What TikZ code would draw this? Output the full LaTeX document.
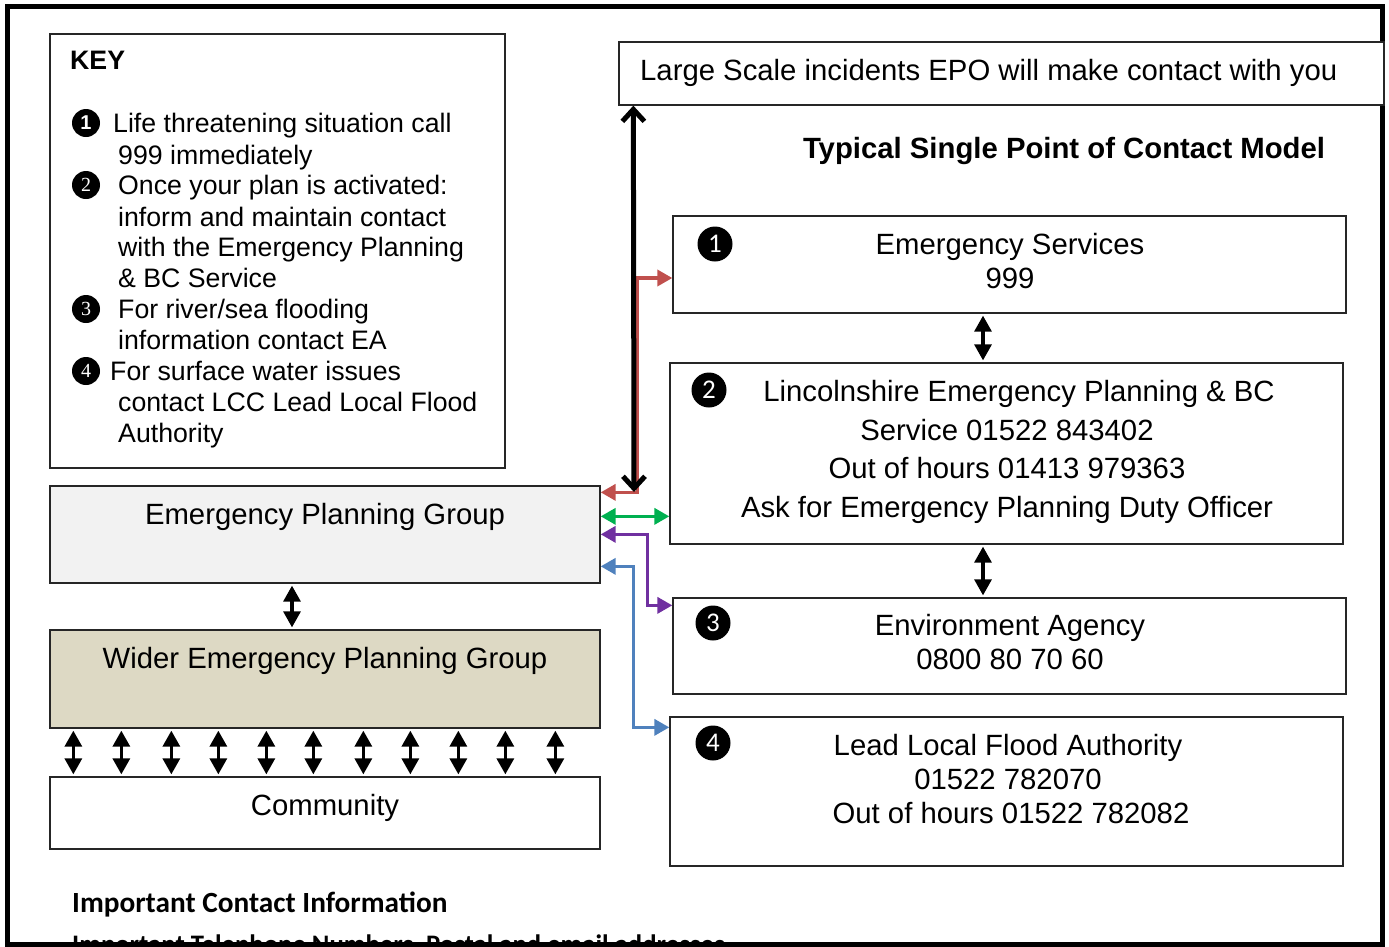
\documentclass[tikz,border=0pt]{standalone}
\usepackage{fontspec}
\setmainfont{Liberation Sans}
\newfontfamily\calibfont{Carlito}
\newfontfamily\numserif{Liberation Serif}
\usetikzlibrary{arrows.meta}
\definecolor{arrred}{HTML}{C0504D}
\definecolor{arrgreen}{HTML}{00B050}
\definecolor{arrpurple}{HTML}{7030A0}
\definecolor{arrblue}{HTML}{4F81BD}
\definecolor{epgfill}{HTML}{F2F2F2}
\definecolor{wepgfill}{HTML}{DDD9C4}
\begin{document}
\begin{tikzpicture}[x=1pt,y=-1pt,
  box/.style={draw=black!85, line width=1.3pt, inner sep=0pt, fill=white},
  bigtxt/.style={inner sep=0pt, anchor=base, font=\fontsize{29.3}{34}\selectfont},
  keytxt/.style={inner sep=0pt, anchor=base west, font=\fontsize{26.7}{31}\selectfont},
  numc/.style={circle, fill=black, text=white, inner sep=0pt, minimum size=35pt, font=\calibfont\fontsize{27}{27}\selectfont},
  keyc/.style={circle, fill=black, text=white, inner sep=0pt, minimum size=28pt},
  dbl/.style={line width=3.2pt, shorten <=2pt, shorten >=2pt,
     {Triangle[width=17pt,length=16pt]}-{Triangle[width=17pt,length=16pt]}},
  carr/.style={line width=3.5pt,
     {Triangle[width=16pt,length=15pt]}-{Triangle[width=16pt,length=15pt]}},
  bigarr/.style={line width=5pt, line cap=round, line join=round,
     {Straight Barb[width=22pt,length=12pt]}-{Straight Barb[width=22pt,length=12pt]}}
]
\useasboundingbox (0,0) rectangle (1389,946);

% outer frame
\draw[line width=5pt] (7.5,6.5) rectangle (1382.5,944);

% bottom texts (cut by the frame, as in the original)
\begin{scope}
\clip (0,0) rectangle (1389,941.5);
\node[inner sep=0pt, anchor=base west, font=\calibfont\bfseries\fontsize{29.3}{30}\selectfont] (ici) at (72,912.5) {Important Contact Information};
\node[inner sep=0pt, anchor=base west, font=\calibfont\bfseries\fontsize{26.7}{30}\selectfont] (itn) at (72,953) {Important Telephone Numbers, Postal and email addresses};
\end{scope}

% key box
\node[box, minimum width=455pt, minimum height=434pt] (key) at (277.5,251) {};
\node[inner sep=0pt, anchor=base west, font=\bfseries\fontsize{26.7}{31}\selectfont] (keyt) at (70,69.5) {KEY};
\node[keyc, font=\bfseries\fontsize{20}{20}\selectfont] (k1) at (86,123) {1};
\node[keyc, font=\numserif\fontsize{20}{20}\selectfont] (k2) at (86,185) {2};
\node[keyc, font=\numserif\fontsize{20}{20}\selectfont] (k3) at (86,309) {3};
\node[keyc, font=\numserif\fontsize{20}{20}\selectfont] (k4) at (86,371) {4};
\node[keytxt] (kl1) at (113,132.5) {Life threatening situation call};
\node[keytxt] (kl2) at (118,164.5) {999 immediately};
\node[keytxt] (kl3) at (118,194.5) {Once your plan is activated:};
\node[keytxt] (kl4) at (118,226.5) {inform and maintain contact};
\node[keytxt] (kl5) at (118,256.5) {with the Emergency Planning};
\node[keytxt] (kl6) at (118,287.5) {\& BC Service};
\node[keytxt] (kl7) at (118,318.5) {For river/sea flooding};
\node[keytxt] (kl8) at (118,349.5) {information contact EA};
\node[keytxt] (kl9) at (110,380.5) {For surface water issues};
\node[keytxt] (kl10) at (118,411.5) {contact LCC Lead Local Flood};
\node[keytxt] (kl11) at (118,442.5) {Authority};

% right column boxes
\node[box, minimum width=765pt, minimum height=63pt] (hdr) at (1001.5,73.5) {};
\node[bigtxt, anchor=base west] (hdrt) at (640,80) {Large Scale incidents EPO will make contact with you};
\node[inner sep=0pt, anchor=base, font=\bfseries\fontsize{29.3}{31}\selectfont] (title) at (1064,158) {Typical Single Point of Contact Model};

\node[box, minimum width=673pt, minimum height=97pt] (es) at (1009.5,264.5) {};
\node[numc] (c1) at (715,244) {1};
\node[bigtxt] (es1) at (1010,254) {Emergency Services};
\node[bigtxt] (es2) at (1010,288) {999};

\node[box, minimum width=673pt, minimum height=181pt] (lincs) at (1006.5,453.5) {};
\node[numc] (c2) at (709,390) {2};
\node[bigtxt] (li1) at (1019,401) {Lincolnshire Emergency Planning \& BC};
\node[bigtxt] (li2) at (1007,440) {Service 01522 843402};
\node[bigtxt] (li3) at (1007,478) {Out of hours 01413 979363};
\node[bigtxt] (li4) at (1007,517) {Ask for Emergency Planning Duty Officer};

\node[box, minimum width=673pt, minimum height=96pt] (ea) at (1009.5,646) {};
\node[numc] (c3) at (713,623) {3};
\node[bigtxt] (ea1) at (1010,635) {Environment Agency};
\node[bigtxt] (ea2) at (1010,669) {0800 80 70 60};

\node[box, minimum width=673pt, minimum height=149pt] (llfa) at (1006.5,791.5) {};
\node[numc] (c4) at (713,743) {4};
\node[bigtxt] (ll1) at (1008,755) {Lead Local Flood Authority};
\node[bigtxt] (ll2) at (1008,789) {01522 782070};
\node[bigtxt] (ll3) at (1011,823) {Out of hours 01522 782082};

% left column boxes
\node[box, fill=epgfill, minimum width=550pt, minimum height=97pt] (epg) at (325,534.5) {};
\node[bigtxt] (epgt) at (325,524) {Emergency Planning Group};
\node[box, fill=wepgfill, minimum width=550pt, minimum height=98pt] (wepg) at (325,679) {};
\node[bigtxt] (wepgt) at (325,668) {Wider Emergency Planning Group};
\node[box, minimum width=550pt, minimum height=72pt] (comm) at (325,813) {};
\node[bigtxt] (commt) at (325,815) {Community};

% coloured connectors
\coordinate (r1) at ([yshift=-7pt]epg.north east);
\coordinate (r2) at ([yshift=-13.5pt]es.west);
\draw[carr, arrred] (r1) -| ([xshift=-35pt]r2) -- (r2);
\coordinate (g1) at ([yshift=-31pt]epg.north east);
\draw[carr, arrgreen] (g1) -- (g1 -| lincs.west);
\coordinate (p1) at ([yshift=-49pt]epg.north east);
\coordinate (p2) at ([yshift=-8pt]ea.north west);
\draw[carr, arrpurple] (p1) -| ([xshift=-25pt]p2) -- (p2);
\coordinate (b1) at ([yshift=-81pt]epg.north east);
\coordinate (b2) at ([yshift=-11pt]llfa.north west);
\draw[carr, arrblue] (b1) -| ([xshift=-36pt]b2) -- (b2);

% big black arrow
\coordinate (bigend) at (634,492);
\draw[bigarr] ([xshift=15pt]hdr.south west) -- (bigend);

% small black double arrows
\draw[dbl] ([xshift=-26.5pt]es.south) -- ([xshift=-23.5pt]lincs.north);
\draw[dbl] ([xshift=-23.5pt]lincs.south) -- ([xshift=-26.5pt]ea.north);
\draw[dbl] ([xshift=-33pt]epg.south) -- ([xshift=-33pt]wepg.north);
\foreach \dx in {24,72,122,169,217,264,314,361,409,456,506}
  \draw[dbl] ([xshift=\dx pt]wepg.south west) -- ([xshift=\dx pt]comm.north west);
\end{tikzpicture}
\end{document}
